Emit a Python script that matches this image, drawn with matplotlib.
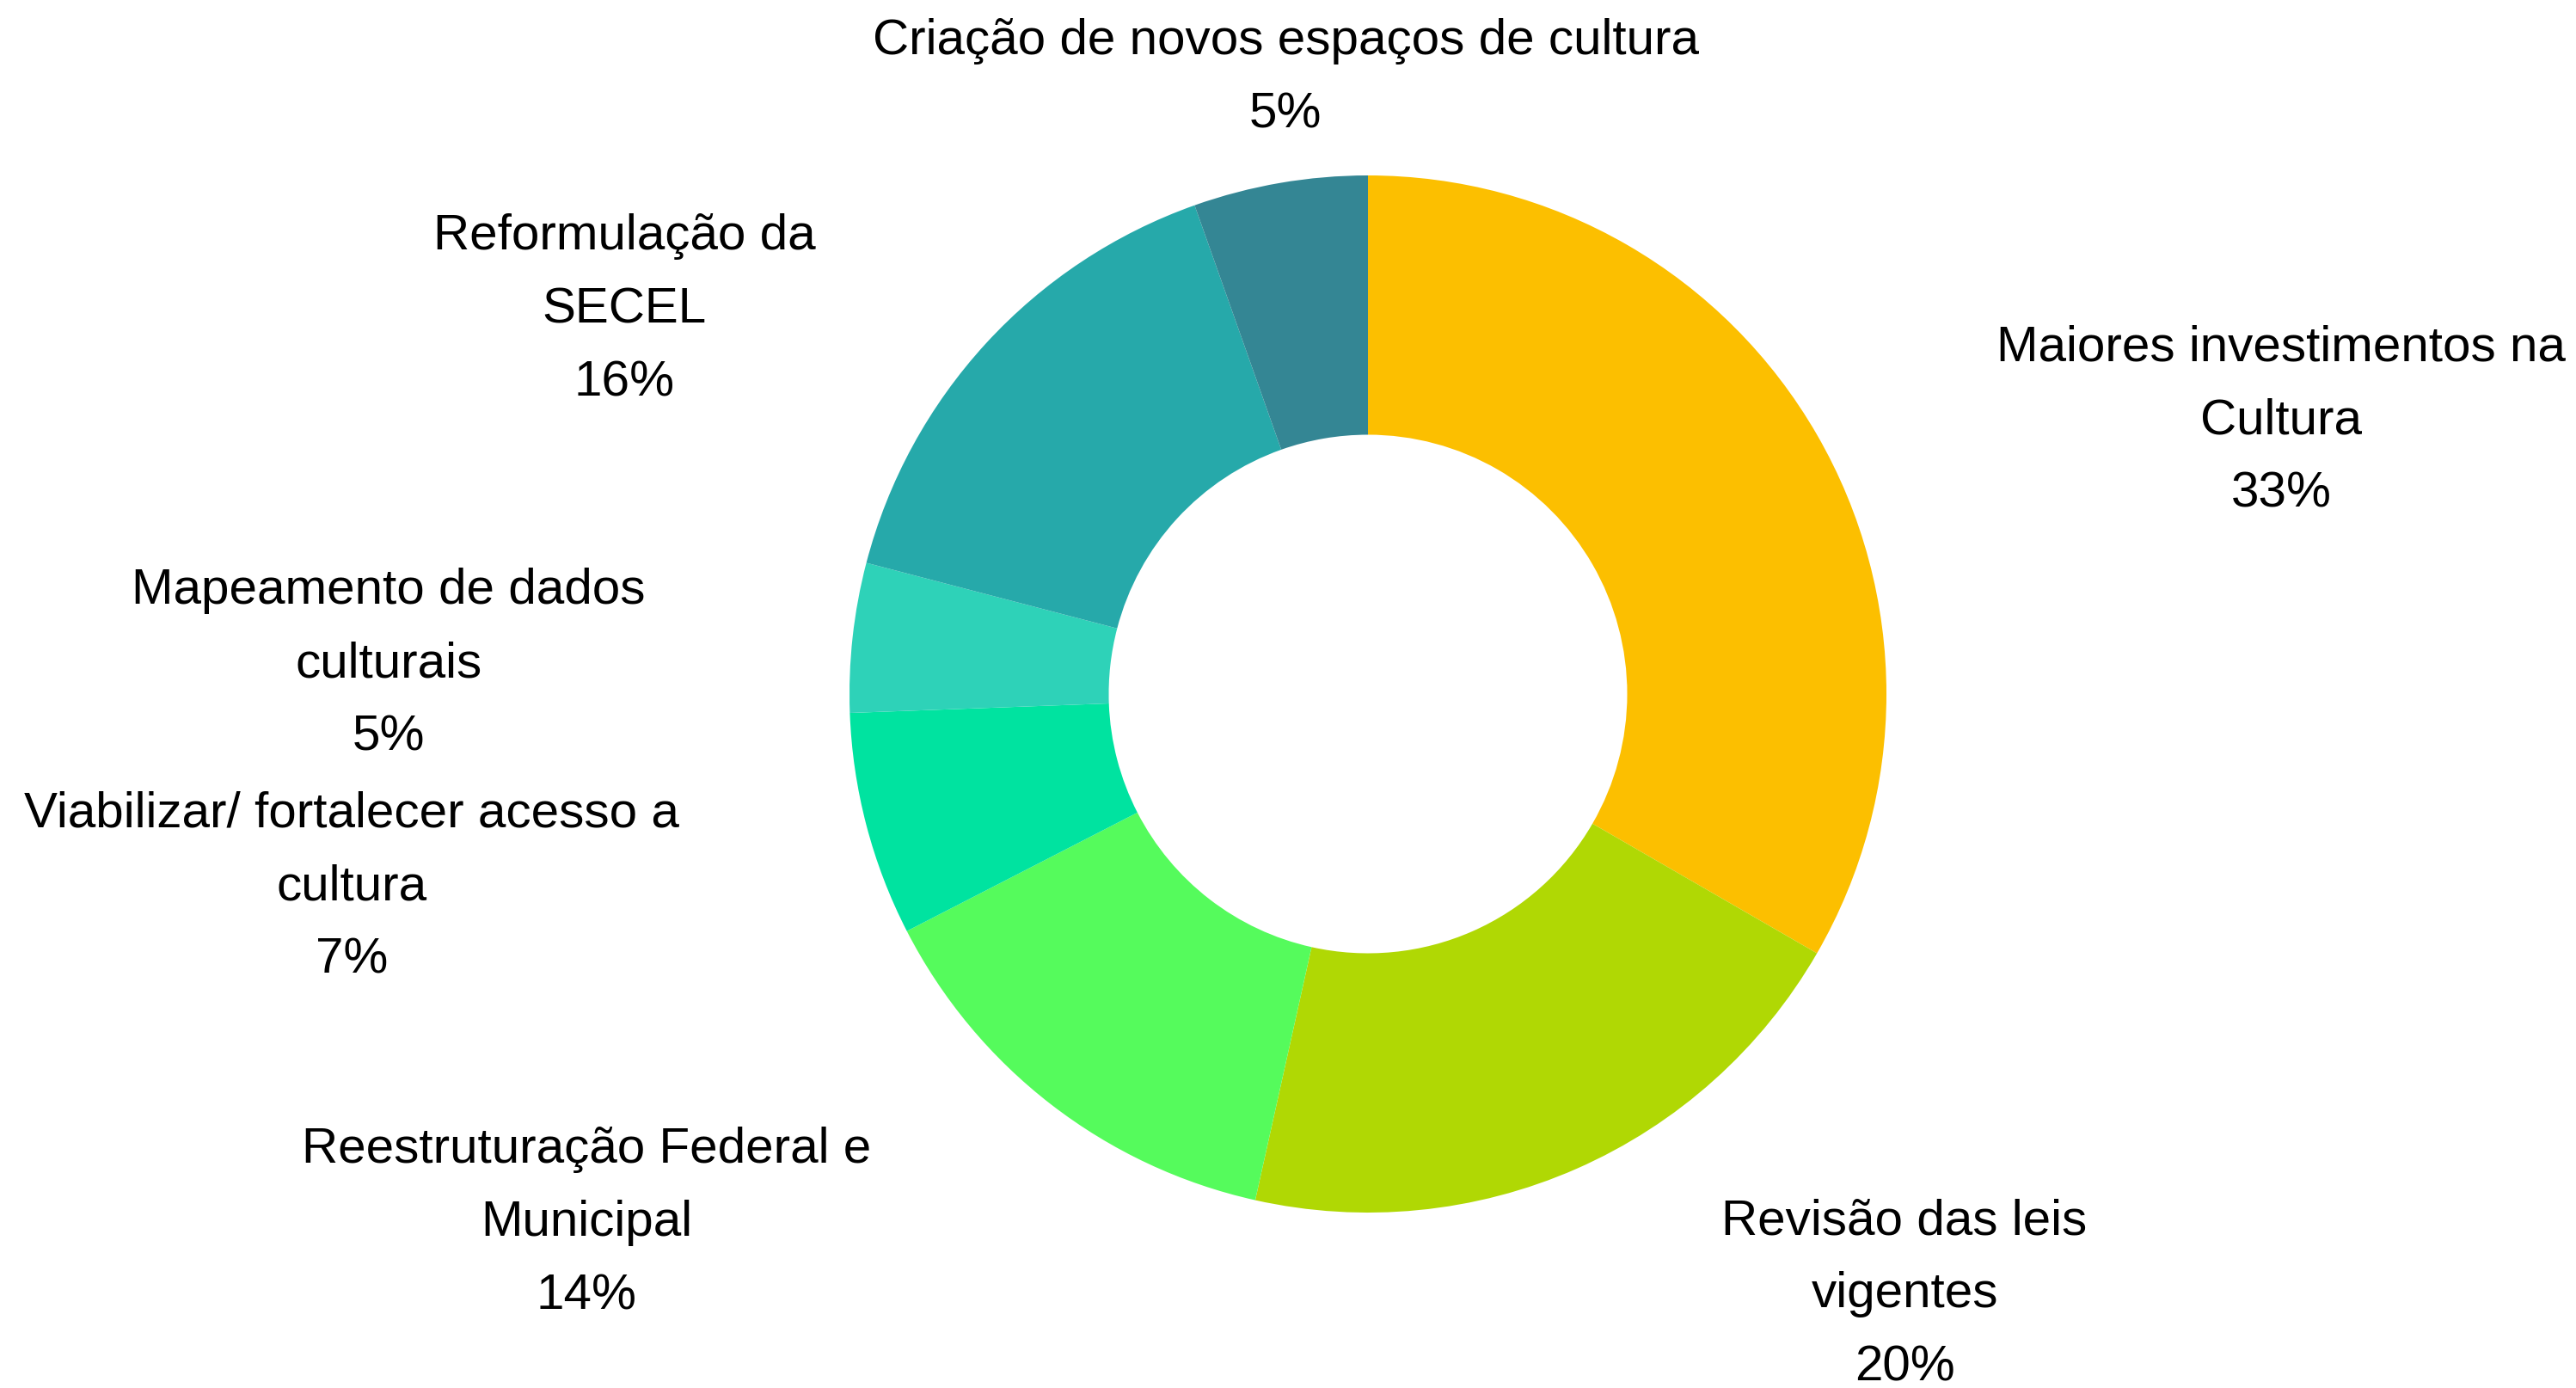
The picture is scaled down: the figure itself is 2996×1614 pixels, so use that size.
import matplotlib
matplotlib.use("Agg")
import matplotlib.pyplot as plt

# ---- data ----
categories = [
    "Maiores investimentos na\nCultura",
    "Revisão das leis\nvigentes",
    "Reestruturação Federal e\nMunicipal",
    "Viabilizar/ fortalecer acesso a\ncultura",
    "Mapeamento de dados\nculturais",
    "Reformulação da\nSECEL",
    "Criação de novos espaços de cultura",
]
counts = [43, 26, 18, 9, 6, 20, 7]

# ---- styles / layout ----
colors = ["#FCBF00", "#B0D804", "#55FB5C", "#00E3A0", "#2ED2B8", "#26A9AA", "#348694"]
label_pos = [(1.761, 0.527), (1.035, -1.158), (-1.507, -1.020), (-1.960, -0.373),
             (-1.889, 0.058), (-1.434, 0.741), (-0.159, 1.188)]

W, H, DPI = 2996, 1614, 200
cx, cy, R = 1591, 807, 603  # donut centre and radius in pixels

fig = plt.figure(figsize=(W / DPI, H / DPI), dpi=DPI)
ax = fig.add_axes([0, 0, 1, 1])
ax.pie(counts, colors=colors, startangle=90, counterclock=False, radius=1.0,
       wedgeprops=dict(width=0.5, linewidth=0))
ax.set_xlim(-cx / R, (W - cx) / R)
ax.set_ylim(-(H - cy) / R, cy / R)
ax.set_aspect("auto")
ax.axis("off")

total = sum(counts)
for cat, v, (x, y) in zip(categories, counts, label_pos):
    pct = 100.0 * v / total
    ax.text(x, y, f"{cat}\n{pct:.0f}%", ha="center", va="center",
            fontsize=21, family=["Liberation Sans", "DejaVu Sans"],
            linespacing=1.74, color="black")

fig.savefig("out.png", dpi=DPI, facecolor="white")
